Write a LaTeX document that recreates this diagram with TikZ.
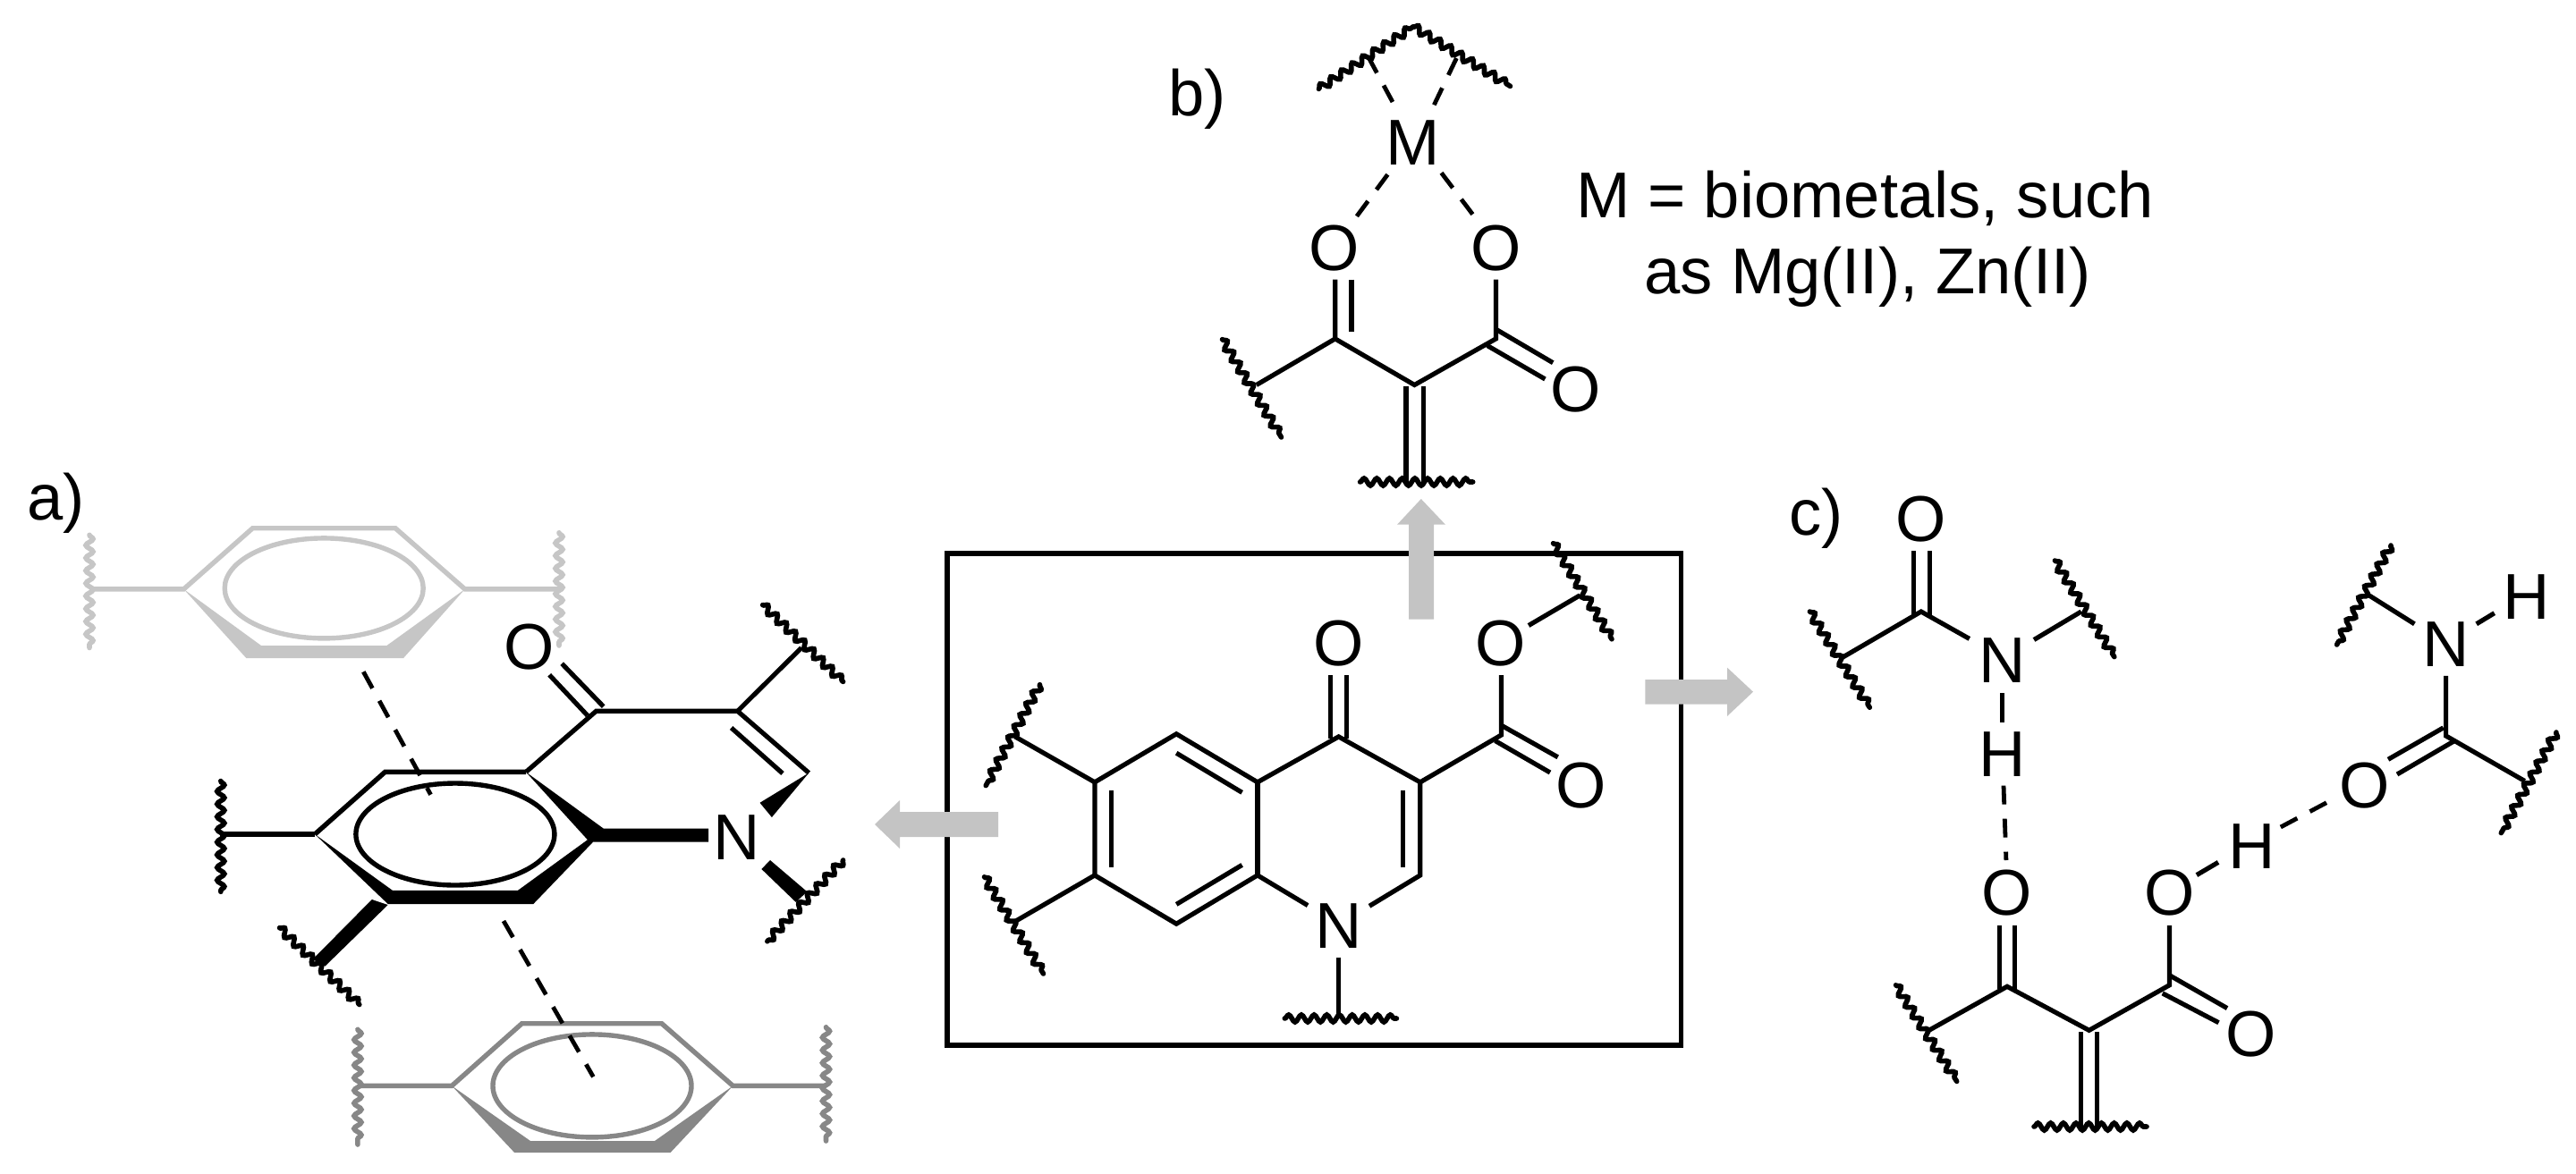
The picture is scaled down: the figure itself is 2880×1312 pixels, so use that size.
\documentclass[tikz,border=0pt]{standalone}
\usepackage{fontspec}
\setmainfont{Liberation Sans}
\usetikzlibrary{decorations.pathmorphing}
\definecolor{lightg}{HTML}{C6C6C6}
\definecolor{midg}{HTML}{878787}
\definecolor{arrowg}{HTML}{C4C4C4}
\tikzset{
  atom/.style={inner sep=0pt,outer sep=0pt,font=\fontsize{36.2}{40}\selectfont},
  lab/.style={inner sep=0pt,outer sep=0pt,anchor=base west,font=\fontsize{36.2}{40}\selectfont},
  bond/.style={line width=2.6pt,line cap=butt,line join=miter},
  wavy/.style={line width=2.8pt,line cap=round,decorate,decoration={snake,segment length=7.1pt,amplitude=2pt}},
  hb/.style={line width=2.4pt,dash pattern=on 10.5pt off 8pt},
  ring/.style={line width=2.7pt},
  gblock/.style={fill=arrowg,draw=none},
}
\begin{document}
\begin{tikzpicture}[x=0.5pt,y=-0.5pt]
\useasboundingbox (0,0) rectangle (2880,1312);

% ---- central frame
\draw[line width=2.9pt] (1059,619) rectangle (1879.4,1169);

% ---- arrows
\fill[gblock] (1116,908) -- (1006,908) -- (1006,895) -- (978,922) -- (1006,949) -- (1006,936) -- (1116,936) -- cycle;
\fill[gblock] (1575,692.6) -- (1575,586.7) -- (1562,586.7) -- (1588.8,558) -- (1616,586.7) -- (1603,586.7) -- (1603,692.6) -- cycle;
\fill[gblock] (1839.3,760) -- (1931,760) -- (1931,746.6) -- (1960,773.7) -- (1931,801) -- (1931,787.5) -- (1839.3,787.5) -- cycle;

% ---- central molecule
\node[atom] (cO1) at (1496.6,719.8) {O};
\node[atom] (cO2) at (1677.4,719.8) {O};
\node[atom] (cO3) at (1768,878.2) {O};
\node[atom] (cN) at (1496.6,1035.1) {N};
\draw[bond,line join=miter] (1462.1,1012.6) -- (1405.9,978.9) -- (1315.2,1033.2) -- (1223.9,978.9) -- (1223.9,874.8) -- (1315.2,820.8) -- (1405.9,874.8) -- (1496.6,823.9) -- (1587.8,874.8) -- (1587.8,978.9) -- (1531,1013.3);
\draw[bond] (1405.9,874.8) -- (1405.9,978.9);
\draw[bond] (1242.8,884) -- (1242.8,969.7);
\draw[bond] (1315.2,842.2) -- (1388.6,886.3);
\draw[bond] (1388.6,967.4) -- (1315.2,1011.4);
\draw[bond] (1568.3,884) -- (1568.3,969.7);
\draw[bond] (1487.4,755) -- (1487.4,826);
\draw[bond] (1505.7,755) -- (1505.7,826);
\draw[bond] (1587.8,874.8) -- (1678.5,822) -- (1678.5,755);
\draw[bond] (1678.5,811.2) -- (1741.7,846.8);
\draw[bond] (1671.6,828.5) -- (1733,864);
\draw[bond] (1709,699.5) -- (1766.4,665.8);
\draw[bond] (1223.9,874.8) -- (1134.9,823.9);
\draw[bond] (1223.9,978.9) -- (1134.9,1030.5);
\draw[bond] (1496.6,1070.7) -- (1496.6,1138);
\draw[wavy] (1162.5,765.7) -- (1102.2,878.6);
\draw[wavy] (1100.5,980.8) -- (1166.5,1089);
\draw[wavy] (1436.3,1139) -- (1561.4,1139);
\draw[wavy] (1736.5,607.7) -- (1802,714.8);

% ---- panel b
\node[lab] (lb) at (1306,129.4) {b)};
\node[atom] (bM) at (1580,160) {M};
\node[atom] (bO1) at (1491.2,277.5) {O};
\node[atom] (bO2) at (1672.4,277.5) {O};
\node[atom] (bO3) at (1761.8,435.5) {O};
\node[lab,anchor=base] (bt1) at (2085,243) {M = biometals, such};
\node[lab,anchor=base] (bt2) at (2088,328) {as Mg(II), Zn(II)};
\draw[wavy] (1474.4,99.5) -- (1580,29.9);
\draw[wavy] (1580,29.9) -- (1688.5,96.4);
\draw[hb] (1529.4,63) -- (1559.4,118.6);
\draw[hb] (1628.4,65) -- (1602.7,118.6);
\draw[hb] (1551.4,195.2) -- (1513.2,246.8);
\draw[hb] (1611.5,193.3) -- (1650.4,245);
\draw[bond] (1492.7,312.7) -- (1492.7,378.9) -- (1581.4,430.5) -- (1672.4,378.9) -- (1672.4,312.7);
\draw[bond] (1511,312.7) -- (1511,370.5);
\draw[bond] (1492.7,378.9) -- (1404.7,430.5);
\draw[bond] (1672.4,368.2) -- (1736.2,405.7);
\draw[bond] (1662.8,386.5) -- (1727.4,424);
\draw[bond] (1571.9,432) -- (1571.9,539);
\draw[bond] (1591.7,432) -- (1591.7,539);
\draw[wavy] (1366.5,379.6) -- (1432.5,489);
\draw[wavy] (1520.6,539) -- (1646.7,539);

% ---- panel c
\node[lab] (lc) at (2000,598.3) {c)};
\node[atom] (cc1) at (2147.8,580.6) {O};
\node[atom] (cc2) at (2238.8,738.7) {N};
\node[atom] (cc3) at (2238.8,843.2) {H};
\node[atom] (cc4) at (2243.5,998.8) {O};
\node[atom] (cc5) at (2425.4,998.8) {O};
\node[atom] (cc6) at (2516.3,1156.4) {O};
\node[atom] (cc7) at (2517.5,946.8) {H};
\node[atom] (cc8) at (2643.7,878.6) {O};
\node[atom] (cc9) at (2734.6,721) {N};
\node[atom] (cc10) at (2824.4,667.5) {H};
\draw[bond] (2139.6,616) -- (2139.6,688);
\draw[bond] (2157.8,616) -- (2157.8,688);
\draw[bond] (2061,734.6) -- (2147.8,684) -- (2201.8,714.4);
\draw[bond] (2274,715.5) -- (2326.8,684);
\draw[wavy] (2023.4,684) -- (2090.3,791.2);
\draw[wavy] (2297.4,627) -- (2363.8,734.6);
\draw[bond] (2238.2,775) -- (2238.2,807.9);
\draw[hb] (2240,878.6) -- (2242.9,962);
\draw[bond] (2235.8,1035) -- (2235.8,1106);
\draw[bond] (2252.3,1035) -- (2252.3,1106);
\draw[bond] (2156.6,1152.3) -- (2244,1103.3) -- (2335.6,1152.3) -- (2425.4,1101.8) -- (2425.4,1035);
\draw[bond] (2425.4,1090.7) -- (2490,1127.6);
\draw[bond] (2417.7,1110.9) -- (2480.5,1143.7);
\draw[bond] (2326.2,1154) -- (2326.2,1260);
\draw[bond] (2344.4,1154) -- (2344.4,1260);
\draw[wavy] (2119.6,1101.8) -- (2187.7,1209.4);
\draw[wavy] (2274,1260) -- (2400,1260);
\draw[bond] (2455.9,978.6) -- (2480,964.4);
\draw[hb] (2549.8,925) -- (2611.4,892.2);
\draw[bond] (2670,849.3) -- (2731.7,813.9);
\draw[bond] (2680,866) -- (2743.4,829);
\draw[bond] (2734.6,755.9) -- (2734.6,823) -- (2822.7,873.5);
\draw[bond] (2699.4,697.8) -- (2645.5,663.9);
\draw[bond] (2768.7,697.8) -- (2788.7,685.7);
\draw[wavy] (2857.9,819) -- (2796.3,931.6);
\draw[wavy] (2673,610) -- (2612.6,721);

% ---- panel a
\node[lab] (la) at (30,581.6) {a)};
% top ring
\begin{scope}[lightg]
\draw[ring] (100.8,658.9) -- (205.4,658.9) -- (282.5,590.7) -- (442,590.7) -- (519.8,658.9) -- (625,658.9);
\fill (205.4,658.9) -- (292,722) -- (432.4,722) -- (519.8,658.9) -- (450.9,736.2) -- (275.5,736.2) -- cycle;
\draw[ring] (362.2,657.9) ellipse [x radius=111,y radius=56];
\draw[wavy] (100,598.3) -- (100,724.5);
\draw[wavy] (625,595.8) -- (625,722);
\end{scope}
% bottom ring
\begin{scope}[midg]
\draw[ring] (400.5,1214.4) -- (505.1,1214.4) -- (583.5,1144.7) -- (739.8,1144.7) -- (819.5,1214.4) -- (923.5,1214.4);
\fill (505.1,1214.4) -- (593,1276) -- (732,1276) -- (819.5,1214.4) -- (749.4,1289.2) -- (575.3,1289.2) -- cycle;
\draw[ring] (662,1214.4) ellipse [x radius=111,y radius=57.5];
\draw[wavy] (399.9,1151.3) -- (399.9,1280);
\draw[wavy] (923.5,1148.8) -- (923.5,1276);
\end{scope}
% middle ring
\draw[ring] (352,933) -- (430.5,863.4) -- (588,863.4);
\fill (352,933) -- (438.8,995.8) -- (579,995.8) -- (656.9,939.2) -- (588,863.4) -- (674.7,926.6) -- (792,926.6) -- (792,941.7) -- (663,941.7) -- (596.3,1011) -- (433.7,1011) -- cycle;
\fill (415.8,1006) -- (433.7,1012) -- (363.5,1080.5) -- (349.5,1073) -- cycle;
\draw[ring] (508.9,933) ellipse [x radius=111,y radius=57];
\draw[bond] (352,933) -- (245.5,933);
\draw[wavy] (246.8,873.5) -- (246.8,997.3);
\draw[wavy] (312.5,1037.7) -- (401.8,1123.5);
% pyridone part
\node[atom] (aO) at (591.8,723.5) {O};
\node[atom] (aN) at (824,936.7) {N};
\draw[bond] (588,863.4) -- (666.5,795.3) -- (824.6,795.3) -- (904.3,864.4);
\draw[bond] (674.7,790.2) -- (628.2,742.2);
\draw[bond] (656.9,800.3) -- (614.2,754.8);
\draw[bond] (824.6,795.3) -- (896,724.5);
\draw[bond] (817.6,814) -- (875,865);
\fill (904.3,864.4) -- (849.5,897.8) -- (862.9,914) -- cycle;
\fill (861,962) -- (851.4,972) -- (889.7,1008.9) -- (902.4,997.3) -- cycle;
\draw[wavy] (852.7,676.6) -- (942.6,762.4);
\draw[wavy] (942.6,962) -- (857.8,1052.8);
% pi stacking dashes
\draw[hb] (406.3,751.3) -- (481.5,888.7);
\draw[hb] (563,1030) -- (663.3,1204.3);
\end{tikzpicture}
\end{document}
